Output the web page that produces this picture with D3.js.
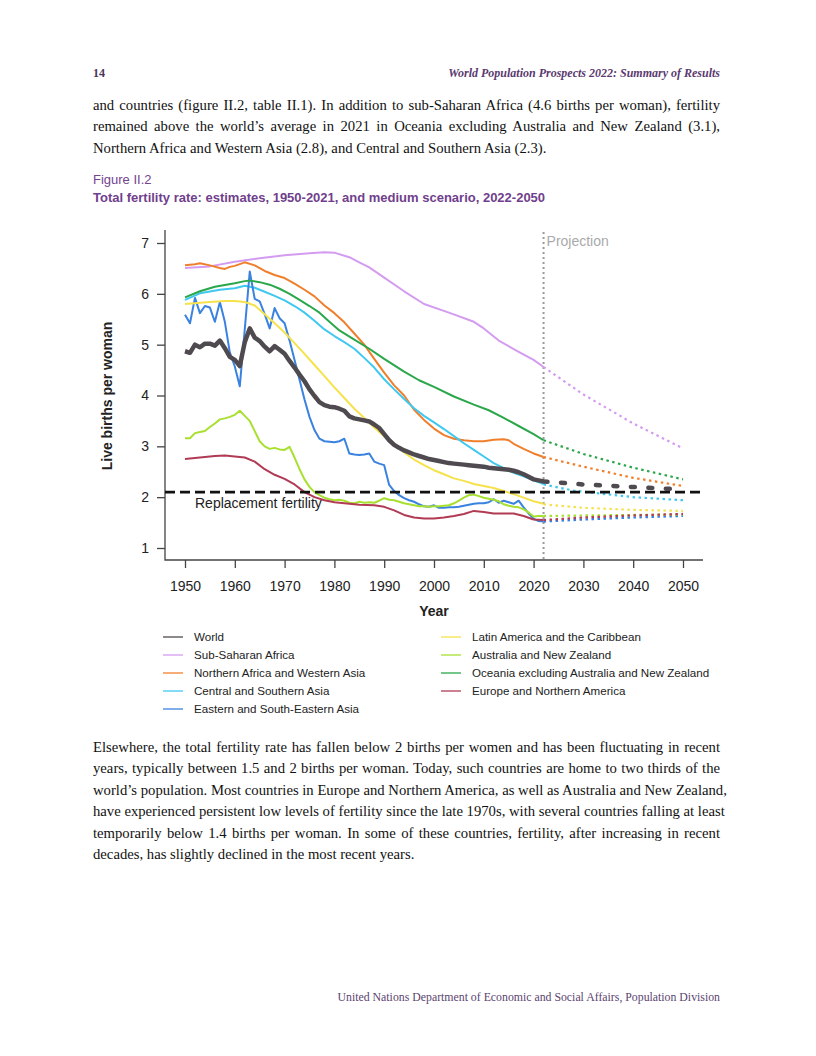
<!DOCTYPE html>
<html lang="en">
<head>
<meta charset="UTF-8">
<title>Total fertility rate</title>
<style>
  body { margin: 0; background: #fff; }
  #page { position: relative; width: 816px; height: 1056px; overflow: hidden; }
  .ln {
    position: absolute; left: 93px; width: 627px;
    font-family: "Liberation Serif", "Times New Roman", serif;
    font-size: 14.7px; line-height: 21px; color: #111;
    white-space: nowrap; text-align: justify; text-align-last: justify;
  }
  .ln.last { text-align-last: left; }
  svg { position: absolute; left: 0; top: 0; }
</style>
</head>
<body>
<div id="page"></div>

<script src="https://d3js.org/d3.v7.min.js"></script>
<script>
// ---- data: [year, births per woman] ----
var world = [[1950,4.87],[1951,4.84],[1952,5.0],[1953,4.95],[1954,5.02],[1955,5.02],[1956,4.98],[1957,5.08],[1958,4.93],[1959,4.76],[1960,4.70],[1961,4.58],[1962,5.05],[1963,5.32],[1964,5.14],[1965,5.07],[1966,4.96],[1967,4.87],[1968,4.97],[1969,4.90],[1970,4.82],[1971,4.68],[1972,4.55],[1973,4.41],[1974,4.28],[1975,4.12],[1976,3.99],[1977,3.87],[1978,3.81],[1979,3.78],[1980,3.77],[1981,3.74],[1982,3.70],[1983,3.59],[1984,3.55],[1985,3.53],[1986,3.51],[1987,3.49],[1988,3.43],[1989,3.36],[1990,3.24],[1991,3.12],[1992,3.03],[1993,2.97],[1994,2.92],[1995,2.88],[1996,2.84],[1997,2.81],[1998,2.78],[1999,2.75],[2000,2.73],[2001,2.71],[2002,2.69],[2003,2.67],[2004,2.66],[2005,2.65],[2006,2.64],[2007,2.63],[2008,2.62],[2009,2.61],[2010,2.60],[2011,2.58],[2012,2.57],[2013,2.56],[2014,2.55],[2015,2.54],[2016,2.52],[2017,2.49],[2018,2.45],[2019,2.40],[2020,2.35],[2021,2.33],[2022,2.31]];
var worldProj = [[2022,2.31],[2030,2.25],[2040,2.20],[2050,2.15]];

var ssa = [[1950,6.51],[1955,6.54],[1960,6.63],[1965,6.70],[1970,6.76],[1975,6.80],[1978,6.82],[1980,6.81],[1983,6.72],[1985,6.62],[1987,6.52],[1990,6.32],[1994,6.05],[1998,5.80],[2003,5.63],[2008,5.45],[2010,5.32],[2013,5.08],[2017,4.86],[2020,4.70],[2022,4.56]];
var ssaProj = [[2022,4.56],[2030,4.02],[2040,3.45],[2050,2.96]];

var nawa = [[1950,6.56],[1952,6.58],[1953,6.60],[1955,6.56],[1957,6.51],[1958,6.49],[1959,6.53],[1960,6.55],[1962,6.62],[1964,6.56],[1966,6.45],[1968,6.37],[1970,6.31],[1972,6.20],[1974,6.08],[1976,5.95],[1978,5.77],[1980,5.62],[1982,5.44],[1984,5.22],[1986,5.00],[1988,4.72],[1990,4.45],[1992,4.20],[1994,4.00],[1996,3.72],[1998,3.52],[2000,3.35],[2002,3.22],[2004,3.15],[2006,3.12],[2008,3.10],[2010,3.10],[2012,3.13],[2014,3.14],[2015,3.12],[2016,3.05],[2018,2.95],[2020,2.86],[2022,2.79]];
var nawaProj = [[2022,2.79],[2030,2.60],[2040,2.38],[2050,2.22]];

var csa = [[1950,5.88],[1953,6.01],[1957,6.08],[1960,6.11],[1962,6.16],[1964,6.12],[1966,6.04],[1968,5.96],[1970,5.87],[1972,5.76],[1974,5.63],[1976,5.47],[1978,5.30],[1980,5.17],[1982,5.05],[1984,4.92],[1986,4.74],[1988,4.55],[1990,4.32],[1992,4.12],[1994,3.93],[1996,3.75],[1998,3.60],[2000,3.47],[2002,3.34],[2004,3.20],[2006,3.06],[2008,2.93],[2010,2.80],[2012,2.67],[2014,2.57],[2016,2.48],[2018,2.41],[2020,2.33],[2022,2.26]];
var csaProj = [[2022,2.25],[2028,2.13],[2040,2.00],[2050,1.94]];

var esea = [[1950,5.59],[1951,5.42],[1952,5.92],[1953,5.62],[1954,5.76],[1955,5.73],[1956,5.45],[1957,5.84],[1958,5.45],[1959,4.85],[1960,4.57],[1961,4.18],[1962,5.30],[1963,6.44],[1964,5.90],[1965,5.85],[1966,5.60],[1967,5.32],[1968,5.72],[1969,5.52],[1970,5.42],[1971,5.08],[1972,4.70],[1973,4.31],[1974,3.92],[1975,3.58],[1976,3.32],[1977,3.15],[1978,3.10],[1979,3.09],[1980,3.08],[1981,3.10],[1982,3.15],[1983,2.86],[1984,2.84],[1985,2.83],[1986,2.84],[1987,2.86],[1988,2.70],[1989,2.66],[1990,2.63],[1991,2.24],[1992,2.12],[1993,2.04],[1994,1.98],[1995,1.94],[1996,1.91],[1997,1.86],[1998,1.82],[1999,1.81],[2000,1.84],[2001,1.79],[2002,1.79],[2003,1.80],[2004,1.80],[2005,1.81],[2006,1.83],[2007,1.85],[2008,1.87],[2009,1.88],[2010,1.88],[2011,1.90],[2012,1.96],[2013,1.89],[2014,1.93],[2015,1.90],[2016,1.87],[2017,1.93],[2018,1.80],[2019,1.68],[2020,1.58],[2021,1.53],[2022,1.52]];
var eseaProj = [[2022,1.52],[2030,1.56],[2040,1.60],[2050,1.63]];

var lac = [[1950,5.80],[1955,5.84],[1958,5.86],[1960,5.86],[1962,5.84],[1964,5.77],[1966,5.60],[1968,5.42],[1970,5.24],[1972,5.03],[1974,4.82],[1976,4.60],[1978,4.38],[1980,4.16],[1982,3.95],[1984,3.74],[1986,3.56],[1988,3.37],[1990,3.20],[1992,3.06],[1994,2.88],[1996,2.74],[1998,2.63],[2000,2.53],[2002,2.45],[2004,2.37],[2006,2.32],[2008,2.26],[2010,2.22],[2012,2.18],[2014,2.12],[2016,2.06],[2018,1.99],[2020,1.92],[2022,1.87]];
var lacProj = [[2022,1.86],[2030,1.79],[2040,1.75],[2050,1.73]];

var anz = [[1950,3.16],[1951,3.16],[1952,3.26],[1953,3.28],[1954,3.30],[1955,3.38],[1956,3.45],[1957,3.53],[1958,3.55],[1959,3.58],[1960,3.62],[1961,3.70],[1962,3.60],[1963,3.50],[1964,3.30],[1965,3.10],[1966,3.00],[1967,2.95],[1968,2.97],[1969,2.94],[1970,2.93],[1971,2.99],[1972,2.78],[1973,2.55],[1974,2.35],[1975,2.20],[1976,2.10],[1977,2.04],[1978,1.99],[1979,1.96],[1980,1.94],[1981,1.95],[1982,1.93],[1983,1.89],[1984,1.88],[1985,1.91],[1986,1.89],[1987,1.90],[1988,1.89],[1989,1.93],[1990,1.98],[1991,1.95],[1992,1.94],[1993,1.91],[1994,1.88],[1995,1.86],[1996,1.84],[1997,1.82],[1998,1.82],[1999,1.81],[2000,1.82],[2001,1.82],[2002,1.83],[2003,1.84],[2004,1.88],[2005,1.93],[2006,1.99],[2007,2.04],[2008,2.05],[2009,2.02],[2010,1.99],[2011,1.97],[2012,1.95],[2013,1.92],[2014,1.86],[2015,1.83],[2016,1.81],[2017,1.80],[2018,1.76],[2019,1.70],[2020,1.62],[2021,1.63],[2022,1.63]];
var anzProj = [[2022,1.63],[2030,1.64],[2040,1.65],[2050,1.66]];

var oce = [[1950,5.93],[1953,6.05],[1956,6.14],[1960,6.21],[1962,6.25],[1963,6.26],[1965,6.23],[1967,6.18],[1969,6.10],[1971,6.00],[1973,5.88],[1975,5.76],[1977,5.63],[1979,5.45],[1981,5.28],[1984,5.10],[1987,4.92],[1990,4.72],[1994,4.47],[1997,4.30],[2000,4.17],[2004,3.98],[2008,3.82],[2011,3.71],[2014,3.56],[2017,3.40],[2020,3.24],[2022,3.12]];
var oceProj = [[2022,3.12],[2030,2.85],[2040,2.58],[2050,2.35]];

var euna = [[1950,2.75],[1953,2.78],[1956,2.81],[1958,2.82],[1960,2.80],[1962,2.78],[1964,2.70],[1966,2.55],[1968,2.44],[1970,2.36],[1972,2.25],[1974,2.10],[1976,2.00],[1978,1.94],[1980,1.90],[1982,1.88],[1985,1.85],[1988,1.84],[1990,1.81],[1992,1.74],[1994,1.65],[1996,1.60],[1998,1.58],[2000,1.58],[2002,1.60],[2004,1.63],[2006,1.67],[2008,1.73],[2010,1.71],[2012,1.68],[2014,1.68],[2016,1.68],[2018,1.63],[2020,1.56],[2022,1.55]];
var eunaProj = [[2022,1.55],[2030,1.60],[2040,1.64],[2050,1.67]];

var xTicks = [1950, 1960, 1970, 1980, 1990, 2000, 2010, 2020, 2030, 2040, 2050];
var yTicks = [1, 2, 3, 4, 5, 6, 7];
var replacement = 2.1;
var projectionYear = 2022;

// ---- page texts ----
var topLines = [
  "and countries (figure II.2, table II.1). In addition to sub-Saharan Africa (4.6 births per woman), fertility",
  "remained above the world\u2019s average in 2021 in Oceania excluding Australia and New Zealand (3.1),",
  "Northern Africa and Western Asia (2.8), and Central and Southern Asia (2.3)."
];
var bottomLines = [
  "Elsewhere, the total fertility rate has fallen below 2 births per women and has been fluctuating in recent",
  "years, typically between 1.5 and 2 births per woman. Today, such countries are home to two thirds of the",
  "world\u2019s population. Most countries in Europe and Northern America, as well as Australia and New Zealand,",
  "have experienced persistent low levels of fertility since the late 1970s, with several countries falling at least",
  "temporarily below 1.4 births per woman. In some of these countries, fertility, after increasing in recent",
  "decades, has slightly declined in the most recent years."
];

var series = [
  { name: "World", est: world, proj: worldProj, color: "#4f4a50" },
  { name: "Sub-Saharan Africa", est: ssa, proj: ssaProj, color: "#d49cf0" },
  { name: "Northern Africa and Western Asia", est: nawa, proj: nawaProj, color: "#f07f2c" },
  { name: "Central and Southern Asia", est: csa, proj: csaProj, color: "#40c8f0" },
  { name: "Eastern and South-Eastern Asia", est: esea, proj: eseaProj, color: "#3a82e0" },
  { name: "Latin America and the Caribbean", est: lac, proj: lacProj, color: "#f6e24c" },
  { name: "Australia and New Zealand", est: anz, proj: anzProj, color: "#a8e030" },
  { name: "Oceania excluding Australia and New Zealand", est: oce, proj: oceProj, color: "#2ba74b" },
  { name: "Europe and Northern America", est: euna, proj: eunaProj, color: "#b13b55" }
];

var page = d3.select("#page");

// paragraphs as justified html lines
function addLines(lines, top) {
  lines.forEach(function (t, i) {
    page.append("div")
      .attr("class", "ln" + (i === lines.length - 1 ? " last" : ""))
      .style("top", (top + i * 21.5) + "px")
      .text(t);
  });
}
addLines(topLines, 94.5);
addLines(bottomLines, 736.5);

var svg = page.append("svg").attr("width", 816).attr("height", 1056);

// running header and footer
svg.append("text").attr("x", 93).attr("y", 77)
  .style("font", "bold 12px 'Liberation Serif', serif").style("fill", "#4a3358")
  .text("14");
svg.append("text").attr("x", 720).attr("y", 77).attr("text-anchor", "end")
  .style("font", "italic bold 12px 'Liberation Serif', serif").style("fill", "#5b3a70")
  .text("World Population Prospects 2022: Summary of Results");
svg.append("text").attr("x", 720).attr("y", 1001).attr("text-anchor", "end")
  .style("font", "11.8px 'Liberation Serif', serif").style("fill", "#5b4470")
  .text("United Nations Department of Economic and Social Affairs, Population Division");

// figure caption
svg.append("text").attr("x", 93).attr("y", 184)
  .style("font", "13px 'Liberation Sans', Arial, sans-serif").style("fill", "#74448f")
  .text("Figure II.2");
svg.append("text").attr("x", 93).attr("y", 202)
  .style("font", "bold 13px 'Liberation Sans', Arial, sans-serif").style("fill", "#70408c")
  .text("Total fertility rate: estimates, 1950-2021, and medium scenario, 2022-2050");

// ---- chart ----
var x = d3.scaleLinear().domain([1950, 2050]).range([185, 683]);
var y = d3.scaleLinear().domain([1, 7]).range([548, 243]);
var axisColor = "#444";
var sans = "'Liberation Sans', Arial, sans-serif";

var yAxis = svg.append("g").attr("transform", "translate(165,0)")
  .call(d3.axisLeft(y).tickValues(yTicks).tickSize(8).tickPadding(8).tickFormat(d3.format("d")));
var xAxis = svg.append("g").attr("transform", "translate(0,560)")
  .call(d3.axisBottom(x).tickValues(xTicks).tickSize(8).tickPadding(13).tickFormat(d3.format("d")));
[yAxis, xAxis].forEach(function (g) {
  g.select(".domain").remove();
  g.selectAll("line").attr("stroke", axisColor).attr("stroke-width", 1.3);
  g.selectAll("text").style("font", "14px " + sans).style("fill", "#222");
});
// L-shaped frame
svg.append("path")
  .attr("d", "M165,230V560H703")
  .attr("fill", "none").attr("stroke", axisColor).attr("stroke-width", 1.3);

svg.append("text").attr("x", 434).attr("y", 616).attr("text-anchor", "middle")
  .style("font", "bold 14px " + sans).style("fill", "#222").text("Year");
svg.append("text").attr("transform", "translate(112,396) rotate(-90)").attr("text-anchor", "middle")
  .style("font", "bold 14px " + sans).style("fill", "#222").text("Live births per woman");

var line = d3.line().x(function (d) { return x(d[0]); }).y(function (d) { return y(d[1]); });

// projection divider
svg.append("line")
  .attr("x1", x(projectionYear)).attr("x2", x(projectionYear))
  .attr("y1", 232).attr("y2", 560)
  .attr("stroke", "#9a9a9a").attr("stroke-width", 2).attr("stroke-dasharray", "2,3");
svg.append("text").attr("x", x(projectionYear) + 3).attr("y", 246)
  .style("font", "14px " + sans).style("fill", "#aaa").text("Projection");

// regions first, world on top
var regions = series.slice(1);
regions.forEach(function (s) {
  svg.append("path").datum(s.est).attr("d", line)
    .attr("fill", "none").attr("stroke", s.color).attr("stroke-width", 2)
    .attr("stroke-linejoin", "round");
  svg.append("path").datum(s.proj).attr("d", line)
    .attr("fill", "none").attr("stroke", s.color).attr("stroke-width", 2.2)
    .attr("stroke-dasharray", "2.5,3.5");
});

// replacement level
svg.append("line")
  .attr("x1", 165).attr("x2", 705)
  .attr("y1", y(replacement)).attr("y2", y(replacement))
  .attr("stroke", "#111").attr("stroke-width", 2.6).attr("stroke-dasharray", "10,5");
svg.append("text").attr("x", 195).attr("y", 508)
  .style("font", "14px " + sans).style("fill", "#222").text("Replacement fertility");

svg.append("path").datum(world).attr("d", line)
  .attr("fill", "none").attr("stroke", series[0].color).attr("stroke-width", 4.5)
  .attr("stroke-linejoin", "round");
svg.append("path").datum(worldProj).attr("d", line)
  .attr("fill", "none").attr("stroke", series[0].color).attr("stroke-width", 4.5)
  .attr("stroke-linecap", "round").attr("stroke-dasharray", "4,13.5");

// ---- legend ----
var legCols = [
  { lx: 163, items: series.slice(0, 5) },
  { lx: 441, items: series.slice(5) }
];
legCols.forEach(function (col) {
  col.items.forEach(function (s, i) {
    var ly = 637 + i * 18;
    svg.append("line").attr("x1", col.lx).attr("x2", col.lx + 20)
      .attr("y1", ly).attr("y2", ly)
      .attr("stroke", s.color).attr("stroke-width", 1.3);
    svg.append("text").attr("x", col.lx + 31).attr("y", ly + 4)
      .style("font", "11.6px " + sans).style("fill", "#222").text(s.name);
  });
});
</script>
</body>
</html>
